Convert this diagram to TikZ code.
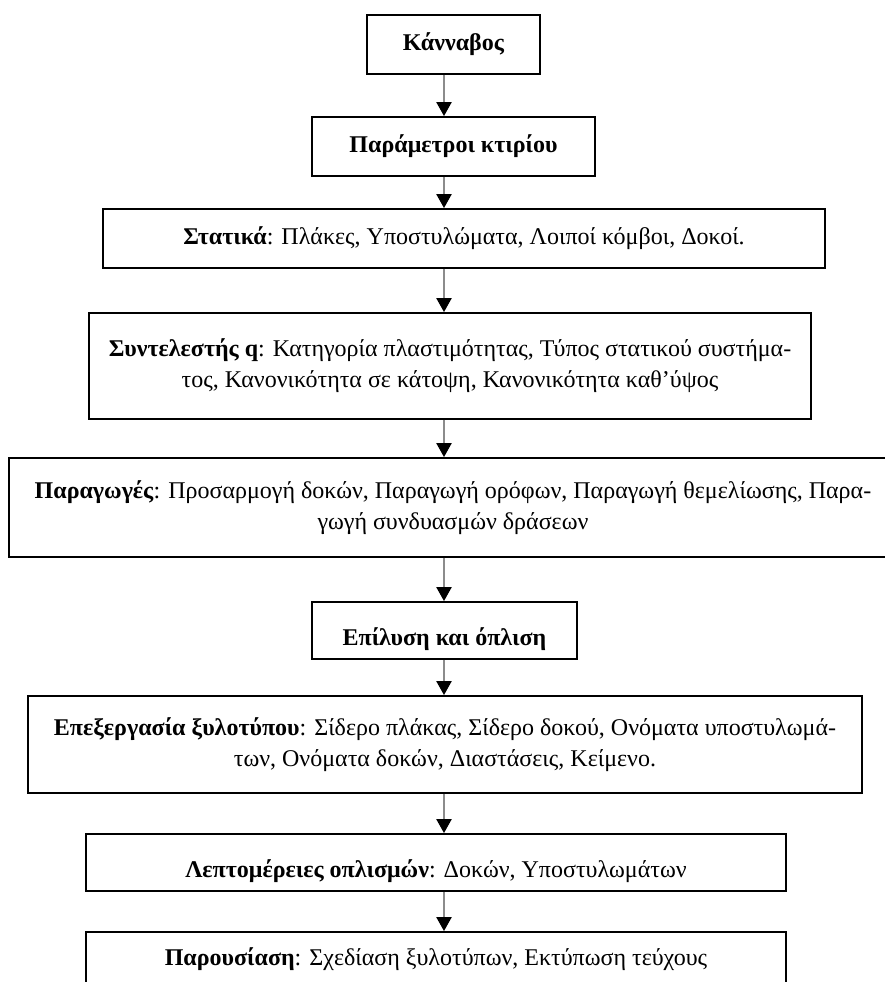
\documentclass[tikz,border=0pt]{standalone}
\usepackage{fontspec}
\setmainfont{Liberation Serif}
\usetikzlibrary{arrows.meta}
\definecolor{FlowGray}{HTML}{8C8C8C}

\tikzset{
  stage/.style={draw=black,line width=.9pt,align=center,inner sep=0pt,
    font=\fontsize{12}{15.5}\selectfont},
  droptext/.style={text height=18pt,text depth=3pt},
  flow/.style={FlowGray,line width=1.1pt,-{Triangle[width=7.5pt,length=7pt,color=black]}}
}

\begin{document}
\begin{tikzpicture}[x=.5pt,y=.5pt]
\path[use as bounding box] (0,0) rectangle (885,982);
\coordinate (ax) at (444,0);
% stages
\node[stage,minimum width=86.5pt,minimum height=29.5pt] (kannavos) at (453.5,937.5) {\textbf{Κάνναβος}};
\node[stage,minimum width=141.5pt,minimum height=29.5pt] (param) at (453.5,835.5) {\textbf{Παράμετροι κτιρίου}};
\node[stage,minimum width=361pt,minimum height=29.5pt] (statika) at (464,743.5) {\textbf{Στατικά}: Πλάκες, Υποστυλώματα, Λοιποί κόμβοι, Δοκοί.};
\node[stage,minimum width=361pt,minimum height=53pt] (syntel) at (450,616)
  {\textbf{Συντελεστής q}: Κατηγορία πλαστιμότητας, Τύπος στατικού συστήμα-\\τος, Κανονικότητα σε κάτοψη, Κανονικότητα καθ’ύψος};
\node[stage,minimum width=444pt,minimum height=49.5pt] (paragoges) at (453,474.5)
  {\textbf{Παραγωγές}: Προσαρμογή δοκών, Παραγωγή ορόφων, Παραγωγή θεμελίωσης, Παρα-\\γωγή συνδυασμών δράσεων};
\node[stage,droptext,minimum width=132.5pt,minimum height=28.5pt] (epilysi) at (444.5,351.5) {\textbf{Επίλυση και όπλιση}};
\node[stage,minimum width=417pt,minimum height=48.5pt] (xylotypos) at (445,237.5)
  {\textbf{Επεξεργασία ξυλοτύπου}: Σίδερο πλάκας, Σίδερο δοκού, Ονόματα υποστυλωμά-\\των, Ονόματα δοκών, Διαστάσεις, Κείμενο.};
\node[stage,droptext,minimum width=350pt,minimum height=28.5pt] (leptom) at (436,119.5) {\textbf{Λεπτομέρειες οπλισμών}: Δοκών, Υποστυλωμάτων};
\node[stage,minimum width=350pt,minimum height=27pt] (parousiasi) at (436,23) {\textbf{Παρουσίαση}: Σχεδίαση ξυλοτύπων, Εκτύπωση τεύχους};
% arrows
\draw[flow] (kannavos.south -| ax) -- (param.north -| ax);
\draw[flow] (param.south -| ax) -- (statika.north -| ax);
\draw[flow] (statika.south -| ax) -- (syntel.north -| ax);
\draw[flow] (syntel.south -| ax) -- (paragoges.north -| ax);
\draw[flow] (paragoges.south -| ax) -- (epilysi.north -| ax);
\draw[flow] (epilysi.south -| ax) -- (xylotypos.north -| ax);
\draw[flow] (xylotypos.south -| ax) -- (leptom.north -| ax);
\draw[flow] (leptom.south -| ax) -- (parousiasi.north -| ax);
\end{tikzpicture}
\end{document}
